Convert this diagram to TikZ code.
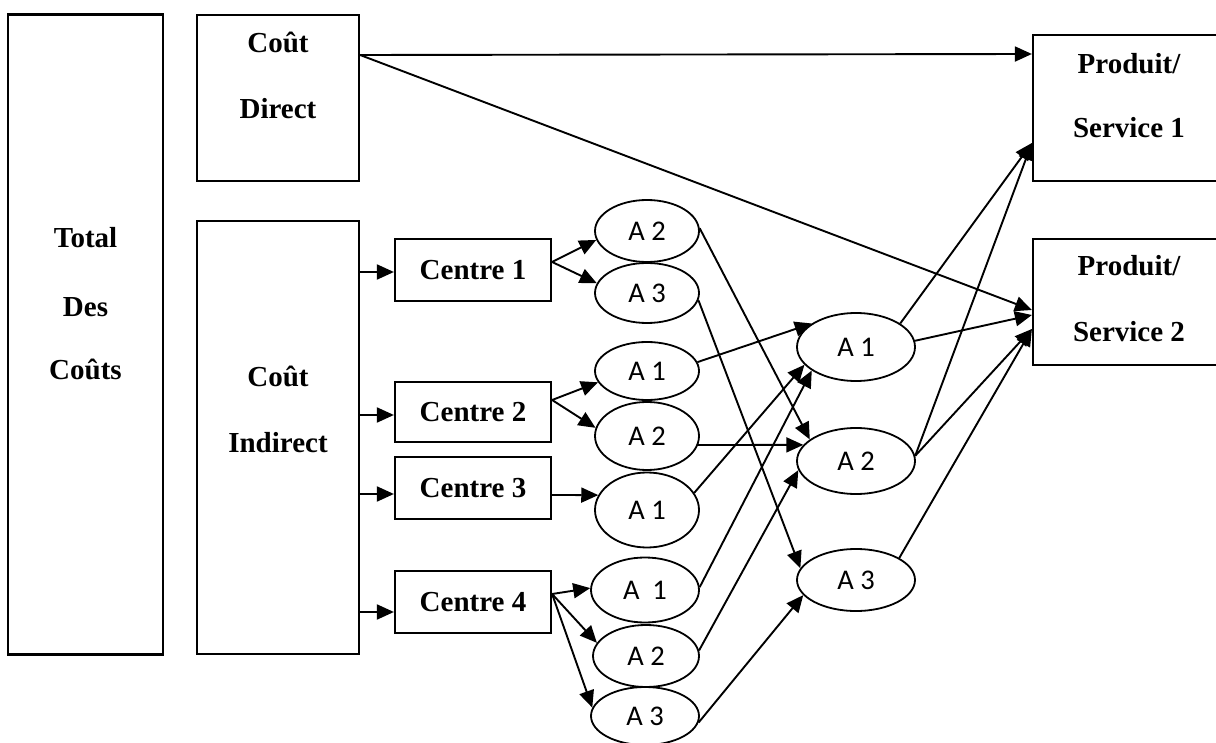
\documentclass[tikz,border=0pt]{standalone}
\usepackage{fontspec}
\setmainfont{Liberation Serif}
\newfontfamily\actfont{Carlito}
\usetikzlibrary{arrows.meta,shapes.geometric,calc}
\begin{document}
\begin{tikzpicture}[x=1pt,y=-1pt,
  box/.style={draw,line width=2.2pt,rectangle,inner sep=0pt,font=\fontsize{29}{30}\selectfont\bfseries},
  lbl/.style={font=\fontsize{29}{30}\selectfont\bfseries,inner sep=0pt,anchor=base},
  act/.style={draw,ellipse,line width=1.8pt,inner sep=0pt,font=\actfont\fontsize{28.5}{30}\selectfont},
  arr/.style={line width=1.9pt,-{Triangle[length=17pt,width=15pt]}}]
\useasboundingbox (0,0) rectangle (1216,743);
% boxes
\node[box,minimum width=155pt,minimum height=640pt] (total) at (85.5,334.5) {};
\node[box,minimum width=162pt,minimum height=166pt] (direct) at (278,98) {};
\node[box,minimum width=162pt,minimum height=433pt] (ind) at (278,437.5) {};
\node[box,minimum width=156pt,minimum height=62pt] (c1) at (473,270) {Centre 1};
\node[box,minimum width=156pt,minimum height=60pt] (c2) at (473,412) {Centre 2};
\node[box,minimum width=156pt,minimum height=62pt] (c3) at (473,488) {Centre 3};
\node[box,minimum width=156pt,minimum height=62pt] (c4) at (473,602) {Centre 4};
\node[box,minimum width=192pt,minimum height=146pt] (p1) at (1129,108) {};
\node[box,minimum width=192pt,minimum height=126pt] (p2) at (1129,302) {};
% box texts
\node[lbl] (tTotal) at (85.5,248) {Total};
\node[lbl] (tDes) at (85.5,317) {Des};
\node[lbl] (tCouts) at (85.5,380) {Coûts};
\node[lbl] (tCd) at (278,53) {Coût};
\node[lbl] (tDirect) at (278,119) {Direct};
\node[lbl] (tCi) at (278,387) {Coût};
\node[lbl] (tIndirect) at (278,452) {Indirect};
\node[lbl] (tP1a) at (1129,74) {Produit/};
\node[lbl] (tP1b) at (1129,138) {Service 1};
\node[lbl] (tP2a) at (1129,276) {Produit/};
\node[lbl] (tP2b) at (1129,342) {Service 2};
% activity ellipses (left)
\node[act,minimum width=104pt,minimum height=62pt] (la2) at (647,231) {A 2};
\node[act,minimum width=104pt,minimum height=60pt] (la3) at (647,293) {A 3};
\node[act,minimum width=104pt,minimum height=58pt] (lb1) at (647,371) {A 1};
\node[act,minimum width=104pt,minimum height=68pt] (lb2) at (647,436) {A 2};
\node[act,minimum width=104pt,minimum height=75pt] (lc1) at (647,510) {A 1};
\node[act,minimum width=108pt,minimum height=65pt] (ld1) at (645,590) {A\ \ 1};
\node[act,minimum width=106pt,minimum height=62pt] (ld2) at (646,656) {A 2};
\node[act,minimum width=108pt,minimum height=58pt] (ld3) at (645,716) {A 3};
% activity ellipses (right)
\node[act,minimum width=118pt,minimum height=68pt] (r1) at (856,347) {A 1};
\node[act,minimum width=118pt,minimum height=66pt] (r2) at (856,461) {A 2};
\node[act,minimum width=118pt,minimum height=62pt] (r3) at (856,580) {A 3};
% direct cost
\draw[arr] ($(direct.east)+(0,-43)$) -- ($(p1.west)+(0,-54)$);
\draw[arr] ($(direct.east)+(0,-43)$) -- ($(p2.west)+(0,8)$);
% indirect to centres
\draw[arr] ($(ind.east|-c1.west)+(0,2)$) -- ($(c1.west)+(0,2)$);
\draw[arr] ($(ind.east|-c2.west)+(0,3)$) -- ($(c2.west)+(0,3)$);
\draw[arr] ($(ind.east|-c3.west)+(0,6)$) -- ($(c3.west)+(0,6)$);
\draw[arr] ($(ind.east|-c4.west)+(0,10)$) -- ($(c4.west)+(0,10)$);
% centres to activities
\draw[arr] ($(c1.east)+(0,-8)$) -- (la2.190);
\draw[arr] ($(c1.east)+(0,-8)$) -- (la3.169);
\draw[arr] ($(c2.east)+(0,-12)$) -- (lb1.193);
\draw[arr] ($(c2.east)+(0,-12)$) -- (lb2.171);
\draw[arr] ($(c3.east)+(0,7)$) -- (lc1.163);
\draw[arr] ($(c4.east)+(0,-8)$) -- (ld1.178);
\draw[arr] ($(c4.east)+(0,-8)$) -- (ld2.165);
\draw[arr] ($(c4.east)+(0,-8)$) -- (ld3.171);
% activities to activities
\draw[arr] (la2.3) -- (r2.155);
\draw[arr] (la3.-8) -- (r3.168);
\draw[arr] (lb1.10) -- (r1.152);
\draw[arr] (lb2.-10) -- (r2.163);
\draw[arr] (lc1.20) -- (r1.199);
\draw[arr] (ld1.3) -- (r1.208);
\draw[arr] (ld2.6) -- (r2.189);
\draw[arr] (ld3.-7) -- (r3.196);
% activities to products
\draw[arr] (r1.28) -- ($(p1.west)+(0,35)$);
\draw[arr] (r2.5) -- ($(p1.west)+(0,35)$);
\draw[arr] (r1.6) -- ($(p2.west)+(0,13)$);
\draw[arr] (r2.5) -- ($(p2.west)+(0,27)$);
\draw[arr] (r3.27) -- ($(p2.west)+(0,27)$);
\end{tikzpicture}
\end{document}
